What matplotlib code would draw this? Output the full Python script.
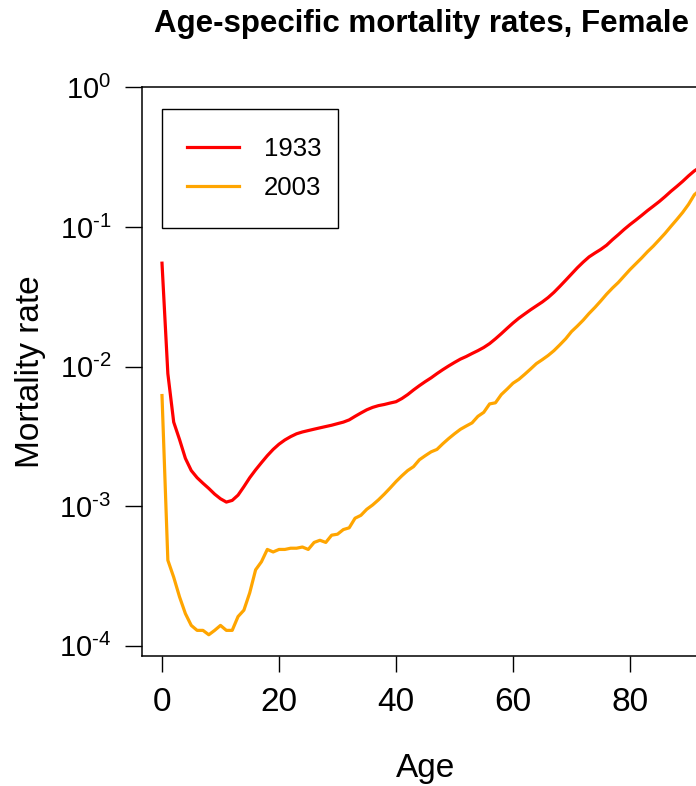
import matplotlib
matplotlib.use("Agg")
import matplotlib.pyplot as plt
from matplotlib.patches import Rectangle
import numpy as np

plt.rcParams['font.family'] = ['Liberation Sans', 'DejaVu Sans']
plt.rcParams['mathtext.fontset'] = 'custom'
plt.rcParams['mathtext.rm'] = 'Liberation Sans'
plt.rcParams['mathtext.it'] = 'Liberation Sans:italic'
plt.rcParams['mathtext.bf'] = 'Liberation Sans:bold'

ages = list(range(0, 93))

rate_1933 = [
    0.055, 0.0089, 0.0040, 0.0030, 0.0022, 0.0018, 0.0016, 0.00146, 0.00134, 0.00122,
    0.00113, 0.00107, 0.00110, 0.00120, 0.00138, 0.00160, 0.00182, 0.00205, 0.00230, 0.00255,
    0.00278, 0.00298, 0.00315, 0.00330, 0.00340, 0.00348, 0.00356, 0.00364, 0.00372, 0.00380,
    0.00390, 0.00400, 0.00415, 0.00440, 0.00465, 0.00490, 0.00510, 0.00525, 0.00535, 0.00548,
    0.00560, 0.00590, 0.00630, 0.00680, 0.00730, 0.00780, 0.00830, 0.00890, 0.00950, 0.0101,
    0.0107, 0.0113, 0.0118, 0.0124, 0.0130, 0.0137, 0.0146, 0.0158, 0.0172, 0.0188,
    0.0205, 0.0222, 0.0238, 0.0255, 0.0272, 0.0290, 0.0312, 0.0340, 0.0375, 0.0415,
    0.0460, 0.0510, 0.0560, 0.0610, 0.0650, 0.0690, 0.0740, 0.0810, 0.0880, 0.0960,
    0.104, 0.112, 0.121, 0.131, 0.141, 0.152, 0.165, 0.180, 0.195, 0.212,
    0.232, 0.252, 0.268,
]

rate_2003 = [
    0.0062, 0.00041, 0.00031, 0.000224, 0.00017, 0.00014, 0.000129, 0.000129, 0.00012, 0.000129,
    0.00014, 0.000129, 0.000129, 0.000162, 0.00018, 0.00024, 0.00035, 0.00040, 0.00049, 0.00047,
    0.00049, 0.00049, 0.00050, 0.00050, 0.00051, 0.00049, 0.00055, 0.00057, 0.00055, 0.00062,
    0.00063, 0.00068, 0.00070, 0.00082, 0.00086, 0.00095, 0.00102, 0.00111, 0.00122, 0.00135,
    0.00150, 0.00165, 0.00180, 0.00192, 0.00215, 0.00230, 0.00245, 0.00255, 0.00280, 0.00305,
    0.00330, 0.00355, 0.00375, 0.00395, 0.00440, 0.00470, 0.00540, 0.00550, 0.00630, 0.00690,
    0.00760, 0.00810, 0.00880, 0.00960, 0.0105, 0.0112, 0.0120, 0.0130, 0.0143, 0.0158,
    0.0178, 0.0195, 0.0215, 0.0240, 0.0265, 0.0295, 0.0330, 0.0365, 0.0400, 0.0445,
    0.0495, 0.0545, 0.0600, 0.0665, 0.0730, 0.0810, 0.0900, 0.1010, 0.1130, 0.1270,
    0.1450, 0.1700, 0.1850,
]

series_labels = ["1933", "2003"]
series_colors = ["#FF0000", "#FFA500"]
x_ticks = [0, 20, 40, 60, 80]
y_ticks = [1e-4, 1e-3, 1e-2, 1e-1, 1e0]
y_tick_labels = [r"$10^{\text{-}4}$", r"$10^{\text{-}3}$", r"$10^{\text{-}2}$",
                 r"$10^{\text{-}1}$", r"$10^{0}$"]

W, H = 696, 786
fig = plt.figure(figsize=(W / 100, H / 100), dpi=100)

# axes geometry in pixels
x0_px = 162.0
px_per_year = 5.85
xmin, xmax = -3.45, 100.0
left_px = x0_px + xmin * px_per_year
right_px = x0_px + xmax * px_per_year
top_px, bottom_px = 87.3, 656.0
ax_w_px = right_px - left_px
ax_h_px = bottom_px - top_px
ax = fig.add_axes([left_px / W, 1 - bottom_px / H, ax_w_px / W, ax_h_px / H])


def ax_xy(px, py):
    return (px - left_px) / ax_w_px, 1 - (py - top_px) / ax_h_px


ax.plot(ages, rate_1933, color=series_colors[0], lw=2.3, label=series_labels[0], solid_joinstyle='round')
ax.plot(ages, rate_2003, color=series_colors[1], lw=2.3, label=series_labels[1], solid_joinstyle='round')

ax.set_yscale('log')
ax.set_xlim(xmin, xmax)
ax.set_ylim(10 ** -4.073, 1.0)
ax.set_xticks(x_ticks)
ax.set_xticklabels([str(t) for t in x_ticks], fontsize=24)
ax.set_yticks(y_ticks)
ax.set_yticklabels(y_tick_labels, fontsize=21)
ax.yaxis.set_minor_locator(matplotlib.ticker.NullLocator())
ax.tick_params(axis='x', direction='out', length=11.5, width=1.0, pad=11)
ax.tick_params(axis='y', direction='out', length=12, width=1.0, pad=10)
for s in ax.spines.values():
    s.set_linewidth(1.1)

# legend box (R-style frame)
bx0, by0 = ax_xy(162.3, 227.7)
bx1, by1 = ax_xy(338.3, 109.3)
ax.add_patch(Rectangle((bx0, by0), bx1 - bx0, by1 - by0, transform=ax.transAxes,
                       facecolor='white', edgecolor='black', lw=1.0, zorder=4))
leg = ax.legend(loc='center left', bbox_to_anchor=ax_xy(186.7, 168.5),
                borderaxespad=0, borderpad=0, fontsize=18.5, frameon=False,
                handlelength=2.05, handletextpad=0.95, labelspacing=0.6)
leg.set_zorder(5)

fig.text(422 / W, 1 - 32 / H, "Age-specific mortality rates, Female", ha='center', va='baseline',
         fontsize=22.5, fontweight='bold')
fig.text(31 / W, 1 - 371.5 / H, "Mortality rate", rotation=90, ha='center', va='center', fontsize=24)
fig.text(426 / W, 1 - 777 / H, "Age", ha='center', va='baseline', fontsize=24)

fig.savefig("out.png", dpi=100)
